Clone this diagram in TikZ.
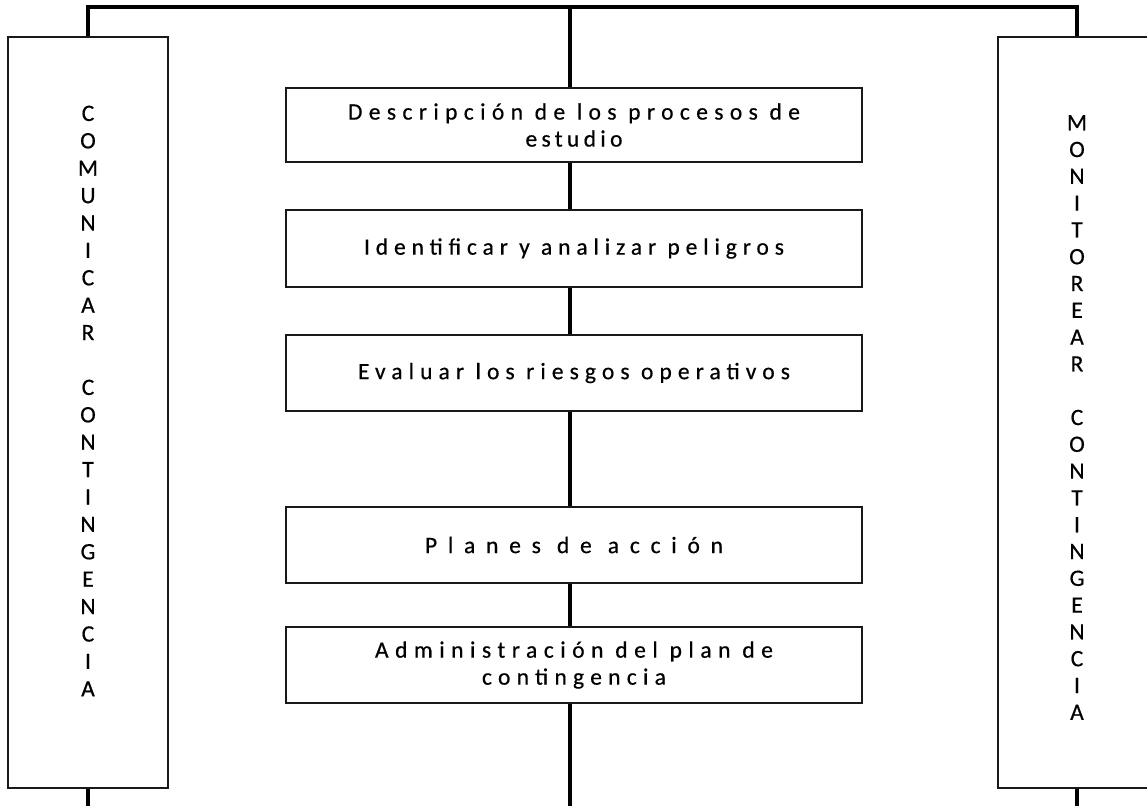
\documentclass[tikz,border=0pt]{standalone}
\usepackage{fontspec}
\newfontfamily\boxfont[FakeBold=0.5]{Carlito}
\newfontfamily\sidefont[FakeBold=0.5]{Carlito}
\newlength\fitwa
\newlength\fitwb
% set a line with letter spacing chosen so that it is #1 pt wide
\newcommand\fitline[2]{%
  \settowidth\fitwa{\addfontfeature{LetterSpace=0}#2}%
  \settowidth\fitwb{\addfontfeature{LetterSpace=10}#2}%
  \pgfmathsetmacro\fitls{10*(#1-\fitwa)/(\fitwb-\fitwa)}%
  {\edef\fitopt{LetterSpace=\fitls}\expandafter\addfontfeature\expandafter{\fitopt}#2}}
\begin{document}
\begin{tikzpicture}[x=1pt,y=-1pt,
  conn/.style={line width=3.3pt, black},
  stepbox/.style={draw=black!90, line width=1.3pt, fill=white, minimum width=576pt,
    inner sep=0pt, align=center, font=\boxfont\fontsize{23.5}{27}\selectfont},
  sidebox/.style={draw=black!90, line width=1.3pt, fill=white, inner sep=0pt},
  sidetext/.style={align=center, inner sep=0pt, font=\sidefont\fontsize{23.5}{27.4}\selectfont}]
\useasboundingbox[fill=white] (0,0) rectangle (1147,806);

% side boxes
\node[sidebox, minimum width=160pt, minimum height=751pt] (lbox) at (88,412.5) {};
\node[sidebox, minimum width=158pt, minimum height=751pt] (rbox) at (1077,412.5) {};
\node[sidetext] (ltext) at (88,401) {C\\O\\M\\U\\N\\I\\C\\A\\R\\[27.4pt]C\\O\\N\\T\\I\\N\\G\\E\\N\\C\\I\\A};
\node[sidetext, font=\sidefont\fontsize{23.5}{26.8}\selectfont] (rtext) at (1077,417.5) {M\\O\\N\\I\\T\\O\\R\\E\\A\\R\\[26.8pt]C\\O\\N\\T\\I\\N\\G\\E\\N\\C\\I\\A};

% step boxes
\node[stepbox, minimum height=74pt] (b1) at (574,125) {\fitline{452}{Descripción de los procesos de}\\\fitline{97}{estudio}};
\node[stepbox, minimum height=77pt] (b2) at (574,248.5) {\fitline{420}{Identificar y analizar peligros}};
\node[stepbox, minimum height=76pt] (b3) at (574,373) {\fitline{432}{Evaluar los riesgos operativos}};
\node[stepbox, minimum height=76pt] (b4) at (574,545) {\fitline{298}{Planes de acción}};
\node[stepbox, minimum height=76pt] (b5) at (574,665) {\fitline{398}{Administración del plan de}\\\fitline{184}{contingencia}};

% connector coordinates
\coordinate (tc) at (570,7);
\coordinate (bc) at (570,806);
\coordinate (bl) at (88,806);
\coordinate (br) at (1077,806);

% top bar
\draw[conn] (lbox.north) |- (tc) -| (rbox.north);
% central spine
\draw[conn] (tc) -- (b1.north -| tc);
\draw[conn] (b1.south -| tc) -- (b2.north -| tc);
\draw[conn] (b2.south -| tc) -- (b3.north -| tc);
\draw[conn] (b3.south -| tc) -- (b4.north -| tc);
\draw[conn] (b4.south -| tc) -- (b5.north -| tc);
\draw[conn] (b5.south -| tc) -- (bc);
% bottom stubs
\draw[conn] (lbox.south) -- (bl);
\draw[conn] (rbox.south) -- (br);
\end{tikzpicture}
\end{document}
